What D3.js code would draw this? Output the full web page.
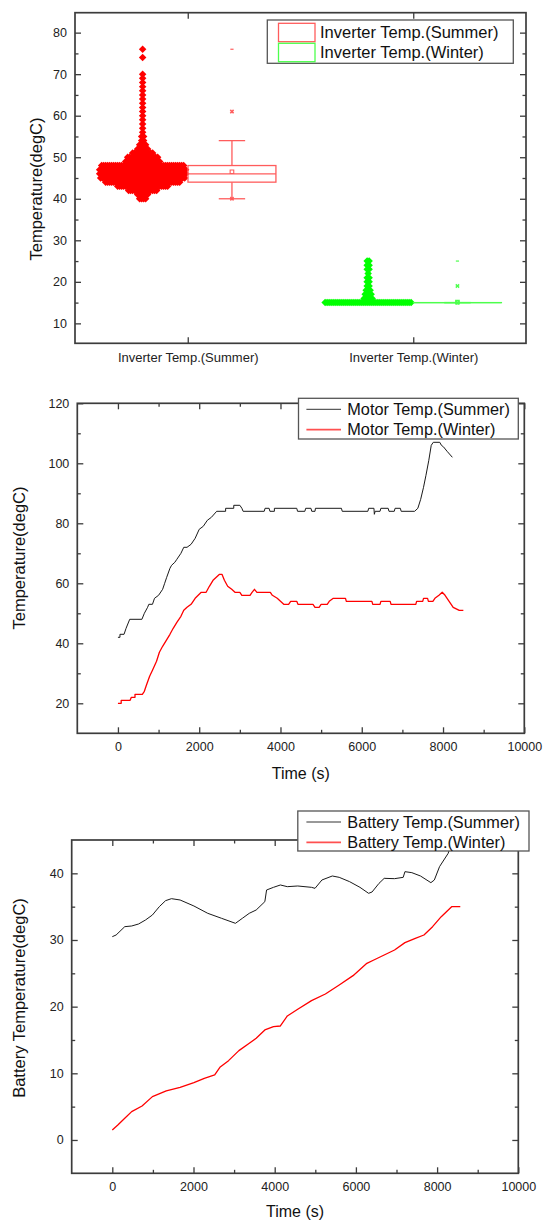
<!DOCTYPE html>
<html><head><meta charset="utf-8">
<script src="https://cdn.jsdelivr.net/npm/d3@7"></script>
<style>
body{margin:0;background:#fff;}
svg{display:block;font-family:"Liberation Sans",Arial,sans-serif;}
</style></head><body>
<svg id="chart" width="543" height="1221"></svg>
<script>
// ================= DATA =================
// --- Chart 1: inverter temperature distribution + box ---
const boxCategories = ["Inverter Temp.(Summer)", "Inverter Temp.(Winter)"];
const inverterYTicks = [10, 20, 30, 40, 50, 60, 70, 80];
const summerTemps  = [40,41,42,43,44,45,46,47,48,49,50,51,52,53,54,55,56,57,58,59,60,61,62,63,64,65,66,67,68,69,70,74,76];
const summerCounts = [ 4, 6,15,26,38,43,44,44,42,18,16,11, 6, 4, 2, 2, 1, 1, 1, 1, 1, 1, 1, 1, 1, 1, 1, 1, 1, 1, 1, 1, 1];
const winterTemps  = [15,16,17,18,19,20,21,22,23,24,25];
const winterCounts = [44, 5, 4, 3, 2, 2, 2, 1, 2, 2, 2];
const boxQ1       = [44, 15];
const boxMedian   = [46, 15];
const boxQ3       = [48, 15];
const boxMean     = [46.5, 15.1];
const whiskerLow  = [40, 15];
const whiskerHigh = [54, 15];
const pct1        = [40, 15];
const pct99       = [61, 19];
const dataMin     = [40, 15];
const dataMax     = [76, 25];

// --- Chart 2: motor temperature ---
const timeTicks = [0, 2000, 4000, 6000, 8000, 10000];
const motorYTicks = [20, 40, 60, 80, 100, 120];
const motorSummer = [[0,42],[50,42],[50,43],[150,43],[200,45],[290,48],[590,48],[650,50],[730,52],[760,53],[850,53],[900,55],[1000,56],[1100,58],[1150,60],[1200,62],[1280,65],[1320,66],[1400,67],[1450,68],[1550,70],[1620,72],[1700,72],[1800,73],[1900,75],[2000,78],[2100,79],[2200,81],[2300,82],[2430,84],[2650,84],[2650,85],[2850,85],[2850,86],[3000,86],[3050,85],[3080,84],[3600,84],[3620,85],[3720,85],[3740,84],[3850,84],[3850,85],[4400,85],[4420,84],[4600,84],[4620,85],[4750,85],[4770,84],[4850,84],[4860,85],[5500,85],[5520,84],[6150,84],[6170,85],[6300,85],[6310,83],[6330,84],[6450,84],[6470,85],[6650,85],[6670,84],[6800,84],[6820,85],[6950,85],[6970,84],[7300,84],[7380,85],[7450,88],[7520,92],[7580,96],[7650,101],[7710,106],[7760,107],[7920,107],[7960,106],[8010,105.5],[8100,104],[8230,102]];
const motorWinter = [[0,20],[80,20],[80,21],[300,21],[330,22],[420,22],[420,23],[600,23],[650,24],[700,26],[780,29],[850,31],[950,34],[1020,37],[1100,39],[1190,41],[1280,43],[1360,45],[1450,47],[1550,49],[1620,51],[1700,52],[1800,53],[1900,55],[2050,57],[2170,57],[2250,59],[2340,61],[2420,62],[2500,63],[2560,63],[2620,61],[2700,59],[2800,58],[2880,57],[3000,57],[3050,56],[3250,56],[3300,57],[3360,58],[3420,57],[3750,57],[3800,56],[3920,55],[4000,54],[4080,53],[4200,53],[4250,54],[4400,54],[4430,53],[4800,53],[4850,52],[4950,52],[5000,53],[5150,53],[5200,54],[5300,55],[5600,55],[5620,54],[6250,54],[6270,53],[6450,53],[6470,54],[6700,54],[6720,53],[7330,53],[7350,54],[7500,54],[7520,55],[7620,55],[7640,54],[7750,54],[7800,55],[7900,56],[7980,57],[8050,56],[8150,54],[8250,52],[8400,51],[8500,51]];

// --- Chart 3: battery temperature ---
const batteryYTicks = [0, 10, 20, 30, 40];
const batterySummer = [[0,30.5],[94,30.75],[307,32],[477,32.1],[647,32.4],[818,33],[988,33.75],[1158,35],[1312,35.9],[1457,36.2],[1670,36],[2010,35.1],[2351,34],[2692,33.25],[3033,32.5],[3203,33.25],[3373,34],[3544,34.5],[3757,35.75],[3800,37.5],[3970,37.9],[4140,38.25],[4311,38],[4567,38.1],[4907,37.9],[4993,37.75],[5163,39],[5419,39.6],[5589,39.4],[5845,38.75],[6100,37.9],[6313,37],[6398,37.2],[6569,38.5],[6697,39.25],[6952,39.2],[7165,39.4],[7208,40.25],[7378,40.1],[7591,39.6],[7847,38.6],[7932,39],[8060,41],[8273,43],[8350,44.5]];
const batteryWinter = [[0,1.5],[136,2.25],[307,3.25],[477,4.25],[733,5.1],[988,6.5],[1329,7.35],[1670,7.9],[2010,8.6],[2266,9.25],[2522,9.75],[2650,10.9],[2863,11.9],[3118,13.4],[3374,14.5],[3544,15.25],[3757,16.5],[3970,17],[4140,17.1],[4311,18.6],[4567,19.6],[4907,20.9],[5248,21.9],[5589,23.25],[5930,24.65],[6270,26.5],[6441,27],[6697,27.75],[6952,28.5],[7208,29.6],[7463,30.25],[7676,30.75],[7889,32],[8102,33.5],[8358,35],[8571,35]];

// ================= DRAWING =================
const svg = d3.select("#chart");
svg.append("rect").attr("width",543).attr("height",1221).attr("fill","#fff");
const AXIS = "#3c3c3c";
const TICKFONT = 12.5;

function minorOf(scale, step, majors) {
  const [a, b] = scale.domain();
  const out = [];
  for (let v = Math.ceil(a / step) * step; v <= b + 1e-9; v += step) {
    if (v > a + 1e-9 && v < b - 1e-9 && !majors.some(m => Math.abs(m - v) < 1e-9)) out.push(v);
  }
  return out;
}

function styleAxis(sel) {
  sel.select(".domain").remove();
  sel.selectAll(".tick line").attr("stroke", AXIS).attr("stroke-width", 1.3);
  sel.selectAll(".tick text").attr("fill", "#222").style("font-size", TICKFONT + "px")
     .style("font-family", '"Liberation Sans",Arial,sans-serif');
}

function frame(g, L, R, T, B) {
  g.append("rect").attr("x", L).attr("y", T).attr("width", R - L).attr("height", B - T)
    .attr("fill", "none").attr("stroke", AXIS).attr("stroke-width", 1.7);
}

function yAxes(g, y, L, R, majors, minors) {
  g.append("g").attr("transform", `translate(${L},0)`)
    .call(d3.axisLeft(y).tickValues(minors).tickSize(-3.5).tickFormat("")).call(styleAxis);
  g.append("g").attr("transform", `translate(${L},0)`)
    .call(d3.axisLeft(y).tickValues(majors).tickSize(-6).tickPadding(8).tickFormat(d3.format("d"))).call(styleAxis);
  g.append("g").attr("transform", `translate(${R},0)`)
    .call(d3.axisRight(y).tickValues(minors).tickSize(-3.5).tickFormat("")).call(styleAxis);
  g.append("g").attr("transform", `translate(${R},0)`)
    .call(d3.axisRight(y).tickValues(majors).tickSize(-6).tickFormat("")).call(styleAxis);
}

function timeAxes(g, x, T, B) {
  const minors = minorOf(x, 1000, timeTicks);
  g.append("g").attr("transform", `translate(0,${B})`)
    .call(d3.axisBottom(x).tickValues(minors).tickSize(-3.5).tickFormat("")).call(styleAxis);
  g.append("g").attr("transform", `translate(0,${B})`)
    .call(d3.axisBottom(x).tickValues(timeTicks).tickSize(-6).tickPadding(8.8).tickFormat(d3.format("d"))).call(styleAxis);
  g.append("g").attr("transform", `translate(0,${T})`)
    .call(d3.axisTop(x).tickValues(minors).tickSize(-3.5).tickFormat("")).call(styleAxis);
  g.append("g").attr("transform", `translate(0,${T})`)
    .call(d3.axisTop(x).tickValues(timeTicks).tickSize(-6).tickFormat("")).call(styleAxis);
}

function yTitle(g, text, cx, cy) {
  g.append("text").attr("transform", `translate(${cx},${cy}) rotate(-90)`)
    .attr("text-anchor", "middle").attr("dy", "0.35em")
    .style("font-size", "16.5px").attr("fill", "#111").text(text);
}
function xTitle(g, text, cx, baseline) {
  g.append("text").attr("x", cx).attr("y", baseline).attr("text-anchor", "middle")
    .style("font-size", "16px").attr("fill", "#111").text(text);
}

// ---------- Chart 1 ----------
(function () {
  const L = 75, R = 526, T = 12.7, B = 343.3;
  const g = svg.append("g");
  const x = d3.scalePoint().domain(boxCategories).range([L, R]).padding(0.5);
  const y = d3.scaleLinear().domain([5.2, 84.8]).range([B, T]);
  const bw = x.step();
  const colors = ["#ff0000", "#00ff00"];
  const boxColors = ["#ff5c5c", "#4dff4d"];
  const dists = [[summerTemps, summerCounts], [winterTemps, winterCounts]];
  const diamond = d3.symbol(d3.symbolSquare, 28);
  const spacing = 2;

  // distribution scatter (left half)
  boxCategories.forEach((cat, i) => {
    const cx = x(cat) - bw * 0.2;
    const pts = [];
    dists[i][0].forEach((t, j) => {
      const n = dists[i][1][j];
      for (let k = 0; k < n; k++) pts.push({ x: cx + (k - (n - 1) / 2) * spacing, v: t });
    });
    g.append("g").selectAll("path").data(pts).join("path")
      .attr("d", diamond).attr("fill", colors[i])
      .attr("transform", d => `translate(${d.x},${y(d.v)}) rotate(45)`);
  });

  // box plots (right half)
  boxCategories.forEach((cat, i) => {
    const cx = x(cat) + bw * 0.196;
    const w = bw * 0.39, cap = w * 0.3;
    const c = boxColors[i];
    const bg = g.append("g").attr("stroke", c).attr("fill", "none").attr("stroke-width", 1.3);
    bg.append("line").attr("x1", cx).attr("x2", cx).attr("y1", y(boxQ3[i])).attr("y2", y(whiskerHigh[i]));
    bg.append("line").attr("x1", cx).attr("x2", cx).attr("y1", y(boxQ1[i])).attr("y2", y(whiskerLow[i]));
    bg.append("line").attr("x1", cx - cap / 2).attr("x2", cx + cap / 2).attr("y1", y(whiskerHigh[i])).attr("y2", y(whiskerHigh[i]));
    bg.append("line").attr("x1", cx - cap / 2).attr("x2", cx + cap / 2).attr("y1", y(whiskerLow[i])).attr("y2", y(whiskerLow[i]));
    bg.append("rect").attr("x", cx - w / 2).attr("y", y(boxQ3[i])).attr("width", w)
      .attr("height", Math.max(0.01, y(boxQ1[i]) - y(boxQ3[i])));
    bg.append("line").attr("x1", cx - w / 2).attr("x2", cx + w / 2).attr("y1", y(boxMedian[i])).attr("y2", y(boxMedian[i]));
    // mean square
    bg.append("path").attr("d", d3.symbol(d3.symbolSquare, 13)()).attr("stroke-width", 1.1)
      .attr("transform", `translate(${cx},${y(boxMean[i])})`);
    // 1% / 99% crosses
    [pct1[i], pct99[i]].forEach(v => {
      bg.append("path").attr("d", d3.symbol(d3.symbolCross, 12)()).attr("fill", c).attr("stroke", "none")
        .attr("transform", `translate(${cx},${y(v)}) rotate(45)`);
    });
    // min / max dashes
    [dataMin[i], dataMax[i]].forEach(v => {
      bg.append("line").attr("x1", cx - 1.6).attr("x2", cx + 1.6).attr("y1", y(v)).attr("y2", y(v)).attr("stroke-width", 1.2);
    });
  });

  // axes
  yAxes(g, y, L, R, inverterYTicks, minorOf(y, 5, inverterYTicks));
  g.append("g").attr("transform", `translate(0,${B})`)
    .call(d3.axisBottom(x).tickSize(-6).tickPadding(9.5)).call(styleAxis)
    .selectAll(".tick text").style("font-size", "13px");
  g.append("g").attr("transform", `translate(0,${T})`)
    .call(d3.axisTop(x).tickSize(-6).tickFormat("")).call(styleAxis);
  frame(g, L, R, T, B);
  yTitle(g, "Temperature(degC)", 36.5, 189);

  // legend
  const lg = g.append("g");
  lg.append("rect").attr("x", 267.3).attr("y", 20).attr("width", 246).attr("height", 43.3)
    .attr("fill", "#fff").attr("stroke", "#555").attr("stroke-width", 1.3);
  boxCategories.forEach((cat, i) => {
    const cy = 32.5 + i * 20;
    lg.append("rect").attr("x", 278.5).attr("y", cy - 9.2).attr("width", 36.5).attr("height", 18.4)
      .attr("fill", "none").attr("stroke", boxColors[i]).attr("stroke-width", 1.3);
    lg.append("text").attr("x", 320).attr("y", cy).attr("dy", "0.36em")
      .style("font-size", "16.5px").attr("fill", "#111").text(cat);
  });
})();

// ---------- generic line chart ----------
function lineChart(opts) {
  const { L, R, T, B, yDomain, yMajors, yMinorStep, series, names, colors, widths, title, titleY, legend, clipId } = opts;
  const g = svg.append("g");
  const x = d3.scaleLinear().domain([-1000, 10000]).range([L, R]);
  const y = d3.scaleLinear().domain(yDomain).range([B, T]);
  g.append("clipPath").attr("id", clipId).append("rect")
    .attr("x", L).attr("y", T).attr("width", R - L).attr("height", B - T);
  const line = d3.line().x(d => x(d[0])).y(d => y(d[1]));
  const lines = g.append("g").attr("clip-path", `url(#${clipId})`);
  series.forEach((s, i) => {
    lines.append("path").datum(s).attr("d", line).attr("fill", "none")
      .attr("stroke", colors[i]).attr("stroke-width", widths[i]).attr("stroke-linejoin", "round");
  });
  yAxes(g, y, L, R, yMajors, minorOf(y, yMinorStep, yMajors));
  timeAxes(g, x, T, B);
  frame(g, L, R, T, B);
  yTitle(g, title, 19, titleY);
  xTitle(g, "Time (s)", (L + R) / 2, opts.xTitleY);
  // legend
  const lg = g.append("g");
  lg.append("rect").attr("x", legend.x).attr("y", legend.y).attr("width", legend.w).attr("height", legend.h)
    .attr("fill", "#fff").attr("stroke", "#555").attr("stroke-width", 1.3);
  names.forEach((n, i) => {
    const cy = legend.y + 11 + i * 20.3;
    lg.append("line").attr("x1", 306.4).attr("x2", 341).attr("y1", cy).attr("y2", cy)
      .attr("stroke", i === 0 ? "#333" : "#ff5050").attr("stroke-width", i === 0 ? 1 : 1.8);
    lg.append("text").attr("x", 347.3).attr("y", cy).attr("dy", "0.36em")
      .style("font-size", "16.3px").attr("fill", "#111").text(n);
  });
}

// ---------- Chart 2 ----------
lineChart({
  L: 77.3, R: 524.3, T: 403.3, B: 733.3,
  yDomain: [10, 120], yMajors: motorYTicks, yMinorStep: 10,
  series: [motorSummer, motorWinter],
  names: ["Motor Temp.(Summer)", "Motor Temp.(Winter)"],
  colors: ["#1a1a1a", "#ff0000"], widths: [1, 1.3],
  title: "Temperature(degC)", titleY: 558, xTitleY: 779,
  legend: { x: 298.5, y: 398.3, w: 219.8, h: 40.7 }, clipId: "clip2"
});

// ---------- Chart 3 ----------
lineChart({
  L: 71.7, R: 518.3, T: 840, B: 1173.3,
  yDomain: [-5, 45], yMajors: batteryYTicks, yMinorStep: 5,
  series: [batterySummer, batteryWinter],
  names: ["Battery Temp.(Summer)", "Battery Temp.(Winter)"],
  colors: ["#1a1a1a", "#ff0000"], widths: [1, 1.3],
  title: "Battery Temperature(degC)", titleY: 998, xTitleY: 1217,
  legend: { x: 297.8, y: 811, w: 231.2, h: 40 }, clipId: "clip3"
});
</script>
</body></html>
